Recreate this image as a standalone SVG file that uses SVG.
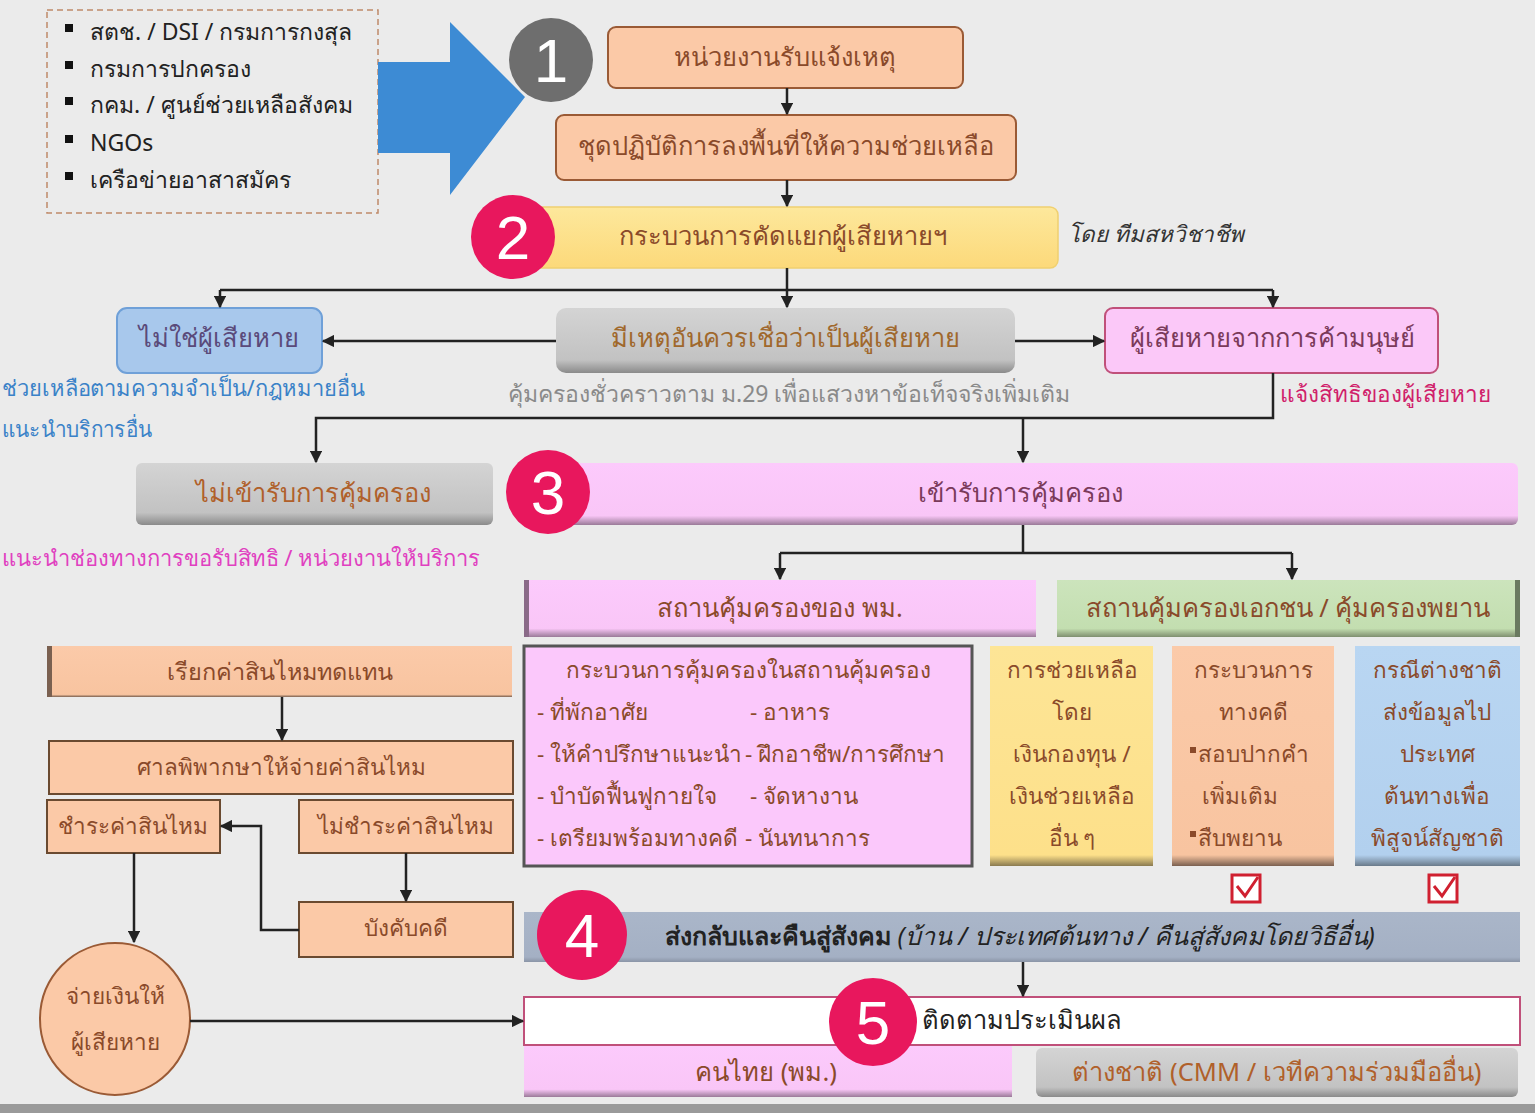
<svg xmlns="http://www.w3.org/2000/svg" width="1535" height="1113" viewBox="0 0 1535 1113">
<defs>
<style>
text{font-family:"Noto Sans","Liberation Sans",sans-serif;font-size:25.5px;fill:#8a4a2a;}
.c{text-anchor:middle;}
.s{font-size:22.5px;}
.num{font-family:"Liberation Sans",sans-serif;font-size:62px;fill:#fff;text-anchor:middle;}
.peach{fill:#fbc9a7;stroke:#9a5a35;stroke-width:2;}
.conn{fill:none;stroke:#222;stroke-width:2.5;}
.pinkc{fill:#e8175d;}
</style>
<marker id="ah" viewBox="0 0 10 10" refX="9" refY="5" markerWidth="5" markerHeight="5" orient="auto-start-reverse"><path d="M0,0L10,5L0,10z" fill="#222"/></marker>
<linearGradient id="gGray" x1="0" y1="0" x2="0" y2="1"><stop offset="0" stop-color="#d4d4d4"/><stop offset="0.8" stop-color="#c2c2c2"/><stop offset="1" stop-color="#8a8a8a"/></linearGradient>
<linearGradient id="gPink" x1="0" y1="0" x2="0" y2="1"><stop offset="0" stop-color="#fccafc"/><stop offset="0.85" stop-color="#f9c6f7"/><stop offset="1" stop-color="#9a7a98"/></linearGradient>
<linearGradient id="gGreen" x1="0" y1="0" x2="0" y2="1"><stop offset="0" stop-color="#cce4bc"/><stop offset="0.85" stop-color="#c3deb0"/><stop offset="1" stop-color="#7f8f70"/></linearGradient>
<linearGradient id="gYellow" x1="0" y1="0" x2="0" y2="1"><stop offset="0" stop-color="#fde596"/><stop offset="0.95" stop-color="#fde08a"/><stop offset="1" stop-color="#8a7a50"/></linearGradient>
<linearGradient id="gPeach" x1="0" y1="0" x2="0" y2="1"><stop offset="0" stop-color="#fbcaa9"/><stop offset="0.95" stop-color="#f8c4a0"/><stop offset="1" stop-color="#7a6050"/></linearGradient>
<linearGradient id="gBlue" x1="0" y1="0" x2="0" y2="1"><stop offset="0" stop-color="#b9d6f2"/><stop offset="0.95" stop-color="#b2d0ee"/><stop offset="1" stop-color="#6a7a8a"/></linearGradient>
<linearGradient id="gSlate" x1="0" y1="0" x2="0" y2="1"><stop offset="0" stop-color="#aab6c9"/><stop offset="0.9" stop-color="#a4b0c4"/><stop offset="1" stop-color="#8a94a6"/></linearGradient>
<linearGradient id="gYel2" x1="0" y1="0" x2="0" y2="1"><stop offset="0" stop-color="#fde89c"/><stop offset="1" stop-color="#fcd97a"/></linearGradient>
</defs>
<rect width="1535" height="1113" fill="#ebebeb"/>
<rect x="0" y="1104" width="1535" height="9" fill="#9a9a9a"/>

<g id="sources">
<rect x="47" y="10" width="331" height="203" fill="none" stroke="#c08a6a" stroke-width="1.5" stroke-dasharray="6,4"/>
<g fill="#111"><rect x="65" y="24" width="8" height="8"/><rect x="65" y="61" width="8" height="8"/><rect x="65" y="97" width="8" height="8"/><rect x="65" y="135" width="8" height="8"/><rect x="65" y="172" width="8" height="8"/></g>
<text x="90" y="40" style="fill:#222;font-size:23px">สตช. / DSI / กรมการกงสุล</text>
<text x="90" y="77" style="fill:#222;font-size:23px">กรมการปกครอง</text>
<text x="90" y="113" style="fill:#222;font-size:23px">กคม. / ศูนย์ช่วยเหลือสังคม</text>
<text x="90" y="151" style="fill:#222;font-size:23px">NGOs</text>
<text x="90" y="188" style="fill:#222;font-size:23px">เครือข่ายอาสาสมัคร</text>
</g>
<g id="bigArrow"><path d="M378,62H450V22L525,97L450,195V153H378Z" fill="#3d8bd4"/></g>

<g id="step1"><circle cx="551" cy="60" r="42" fill="#6e6e6e"/><text class="num" x="551" y="82">1</text></g>
<g id="n_receive"><rect class="peach" x="608" y="27" width="355" height="61" rx="8"/><text class="c" x="785" y="66">หน่วยงานรับแจ้งเหตุ</text></g>
<g id="n_field"><rect class="peach" x="556" y="115" width="460" height="65" rx="8"/><text class="c" x="786" y="155">ชุดปฏิบัติการลงพื้นที่ให้ความช่วยเหลือ</text></g>
<g id="n_screen"><rect x="530" y="207" width="528" height="61" rx="8" fill="url(#gYel2)" stroke="#f0d070" stroke-width="1.5"/><text class="c" x="783" y="245">กระบวนการคัดแยกผู้เสียหายฯ</text></g>
<g id="step2"><circle cx="513" cy="237" r="42" class="pinkc"/><text class="num" x="513" y="259">2</text></g>
<g id="t_team"><text x="1068" y="242" style="fill:#333;font-style:italic;font-size:22.5px">โดย ทีมสหวิชาชีพ</text></g>

<g id="n_notvictim"><rect x="117" y="308" width="205" height="65" rx="10" fill="#a8c8ec" stroke="#6fa0d8" stroke-width="2"/><text class="c" x="219" y="347" style="fill:#5a4a7a">ไม่ใช่ผู้เสียหาย</text>
<text x="2" y="396" textLength="363" lengthAdjust="spacingAndGlyphs" style="fill:#3a82c8;font-size:22px">ช่วยเหลือตามความจำเป็น/กฎหมายอื่น</text>
<text x="2" y="437" textLength="150" lengthAdjust="spacingAndGlyphs" style="fill:#3a82c8;font-size:22px">แนะนำบริการอื่น</text></g>
<g id="n_suspect"><rect x="556" y="308" width="459" height="65" rx="10" fill="url(#gGray)"/><text class="c" x="785" y="347" style="fill:#a0682c">มีเหตุอันควรเชื่อว่าเป็นผู้เสียหาย</text>
<text x="508" y="402" style="fill:#8a8a8a;font-size:23px">คุ้มครองชั่วคราวตาม ม.29  เพื่อแสวงหาข้อเท็จจริงเพิ่มเติม</text></g>
<g id="n_victim"><rect x="1105" y="308" width="333" height="65" rx="8" fill="#fbc8f8" stroke="#c0507a" stroke-width="2"/><text class="c" x="1272" y="347" style="fill:#7a3a5a">ผู้เสียหายจากการค้ามนุษย์</text>
<text x="1280" y="402" style="fill:#d0206a;font-size:22.5px">แจ้งสิทธิของผู้เสียหาย</text></g>

<g id="n_decline"><rect x="136" y="463" width="357" height="62" rx="6" fill="url(#gGray)"/><text class="c" x="313" y="502" style="fill:#b0602a">ไม่เข้ารับการคุ้มครอง</text>
<text x="2" y="566" textLength="478" lengthAdjust="spacingAndGlyphs" style="fill:#e040c0;font-size:22px">แนะนำช่องทางการขอรับสิทธิ / หน่วยงานให้บริการ</text></g>
<g id="n_accept"><rect x="560" y="463" width="958" height="62" rx="6" fill="url(#gPink)"/><text class="c" x="1020" y="502" style="fill:#7a3a5a">เข้ารับการคุ้มครอง</text></g>
<g id="step3"><circle cx="548" cy="492" r="42" class="pinkc"/><text class="num" x="548" y="514">3</text></g>

<g id="n_msdhs"><rect x="524" y="580" width="512" height="57" fill="url(#gPink)"/><rect x="524" y="580" width="5" height="57" fill="#8a6a88"/><text class="c" x="780" y="617">สถานคุ้มครองของ พม.</text></g>
<g id="n_private"><rect x="1057" y="580" width="463" height="57" fill="url(#gGreen)"/><rect x="1515" y="580" width="5" height="57" fill="#6a7a60"/><text class="c" x="1288" y="617">สถานคุ้มครองเอกชน /  คุ้มครองพยาน</text></g>

<g id="n_shelterproc"><rect x="524" y="646" width="448" height="220" fill="#fbc8fb" stroke="#555" stroke-width="3"/>
<text class="c s" x="748" y="678">กระบวนการคุ้มครองในสถานคุ้มครอง</text>
<text class="s" x="537" y="720">- ที่พักอาศัย</text><text class="s" x="750" y="720">- อาหาร</text>
<text class="s" x="537" y="762">- ให้คำปรึกษาแนะนำ</text><text class="s" x="745" y="762">- ฝึกอาชีพ/การศึกษา</text>
<text class="s" x="537" y="804">- บำบัดฟื้นฟูกายใจ</text><text class="s" x="750" y="804">- จัดหางาน</text>
<text class="s" x="537" y="846">- เตรียมพร้อมทางคดี</text><text class="s" x="745" y="846">- นันทนาการ</text></g>
<g id="n_fund"><rect x="990" y="646" width="163" height="220" fill="url(#gYellow)"/>
<text class="c s" x="1072" y="678">การช่วยเหลือ</text><text class="c s" x="1072" y="720">โดย</text><text class="c s" x="1072" y="762">เงินกองทุน /</text><text class="c s" x="1072" y="804">เงินช่วยเหลือ</text><text class="c s" x="1072" y="846">อื่น ๆ</text></g>
<g id="n_legal"><rect x="1172" y="646" width="162" height="220" fill="url(#gPeach)"/>
<text class="c s" x="1253" y="678">กระบวนการ</text><text class="c s" x="1253" y="720">ทางคดี</text><rect x="1190" y="747" width="6" height="6" fill="#8a4a2a"/><text class="s" x="1198" y="762">สอบปากคำ</text><text class="s" x="1202" y="804">เพิ่มเติม</text><rect x="1190" y="831" width="6" height="6" fill="#8a4a2a"/><text class="s" x="1198" y="846">สืบพยาน</text></g>
<g id="n_foreign"><rect x="1355" y="646" width="165" height="220" fill="url(#gBlue)"/>
<text class="c s" x="1437" y="678">กรณีต่างชาติ</text><text class="c s" x="1437" y="720">ส่งข้อมูลไป</text><text class="c s" x="1437" y="762">ประเทศ</text><text class="c s" x="1437" y="804">ต้นทางเพื่อ</text><text class="c s" x="1437" y="846">พิสูจน์สัญชาติ</text></g>
<g id="checks" fill="none" stroke="#d02030" stroke-width="3"><rect x="1232" y="875" width="28" height="27" fill="#fff"/><path d="M1237,886L1245,896L1258,877"/><rect x="1429" y="875" width="28" height="27" fill="#fff"/><path d="M1434,886L1442,896L1455,877"/></g>

<g id="n_return"><rect x="524" y="912" width="996" height="50" fill="url(#gSlate)"/><text x="665" y="945" style="fill:#222;font-size:25px"><tspan font-weight="bold">ส่งกลับและคืนสู่สังคม</tspan><tspan font-style="italic"> (บ้าน / ประเทศต้นทาง / คืนสู่สังคมโดยวิธีอื่น)</tspan></text></g>
<g id="step4"><circle cx="582" cy="935" r="45" class="pinkc"/><text class="num" x="582" y="957">4</text></g>

<g id="n_follow"><rect x="524" y="997" width="996" height="48" fill="#fff" stroke="#c0507a" stroke-width="2"/><text x="922" y="1029" style="fill:#222">ติดตามประเมินผล</text></g>
<g id="n_thai"><rect x="524" y="1046" width="488" height="51" fill="url(#gPink)"/><text class="c" x="766" y="1081">คนไทย (พม.)</text></g>
<g id="n_foreigner"><rect x="1036" y="1048" width="482" height="49" rx="6" fill="url(#gGray)"/><text class="c" x="1277" y="1081" style="fill:#b0602a">ต่างชาติ (CMM / เวทีความร่วมมืออื่น)</text></g>
<g id="step5"><circle cx="873" cy="1022" r="44" class="pinkc"/><text class="num" x="873" y="1044">5</text></g>

<g id="n_claim"><rect x="47" y="646" width="465" height="51" fill="url(#gPeach)"/><rect x="47" y="646" width="5" height="51" fill="#7a6050"/><text class="c" x="280" y="680" style="font-size:23.5px">เรียกค่าสินไหมทดแทน</text></g>
<g id="n_court"><rect class="peach" x="49" y="741" width="464" height="53" style="stroke:#6a4a30"/><text class="c s" x="281" y="775">ศาลพิพากษาให้จ่ายค่าสินไหม</text></g>
<g id="n_paid"><rect class="peach" x="47" y="800" width="173" height="53" style="stroke:#6a4a30"/><text class="c s" x="133" y="834">ชำระค่าสินไหม</text></g>
<g id="n_unpaid"><rect class="peach" x="299" y="800" width="214" height="53" style="stroke:#6a4a30"/><text class="c s" x="406" y="834">ไม่ชำระค่าสินไหม</text></g>
<g id="n_enforce"><rect class="peach" x="299" y="902" width="214" height="55" style="stroke:#6a4a30"/><text class="c s" x="406" y="936">บังคับคดี</text></g>
<g id="n_pay"><ellipse cx="115" cy="1019" rx="75" ry="76" class="peach"/><text class="c s" x="115" y="1004">จ่ายเงินให้</text><text class="c s" x="115" y="1050">ผู้เสียหาย</text></g>

<g id="connectors" class="conn">
<path class="conn" d="M787,88V114" marker-end="url(#ah)"/>
<path class="conn" d="M787,180V206" marker-end="url(#ah)"/>
<path class="conn" d="M787,268V290"/>
<path class="conn" d="M220,290H1273"/>
<path class="conn" d="M220,290V307" marker-end="url(#ah)"/>
<path class="conn" d="M787,290V307" marker-end="url(#ah)"/>
<path class="conn" d="M1273,290V307" marker-end="url(#ah)"/>
<path class="conn" d="M556,341H323" marker-end="url(#ah)"/>
<path class="conn" d="M1015,341H1104" marker-end="url(#ah)"/>
<path class="conn" d="M1273,373V418H316V462" marker-end="url(#ah)"/>
<path class="conn" d="M1023,418V462" marker-end="url(#ah)"/>
<path class="conn" d="M1023,525V553"/>
<path class="conn" d="M780,553H1292"/>
<path class="conn" d="M780,553V579" marker-end="url(#ah)"/>
<path class="conn" d="M1292,553V579" marker-end="url(#ah)"/>
<path class="conn" d="M282,697V740" marker-end="url(#ah)"/>
<path class="conn" d="M406,853V901" marker-end="url(#ah)"/>
<path class="conn" d="M299,930H261V826H221" marker-end="url(#ah)"/>
<path class="conn" d="M134,853V942" marker-end="url(#ah)"/>
<path class="conn" d="M190,1021H523" marker-end="url(#ah)"/>
<path class="conn" d="M1023,962V996" marker-end="url(#ah)"/>
</g>
</svg>
